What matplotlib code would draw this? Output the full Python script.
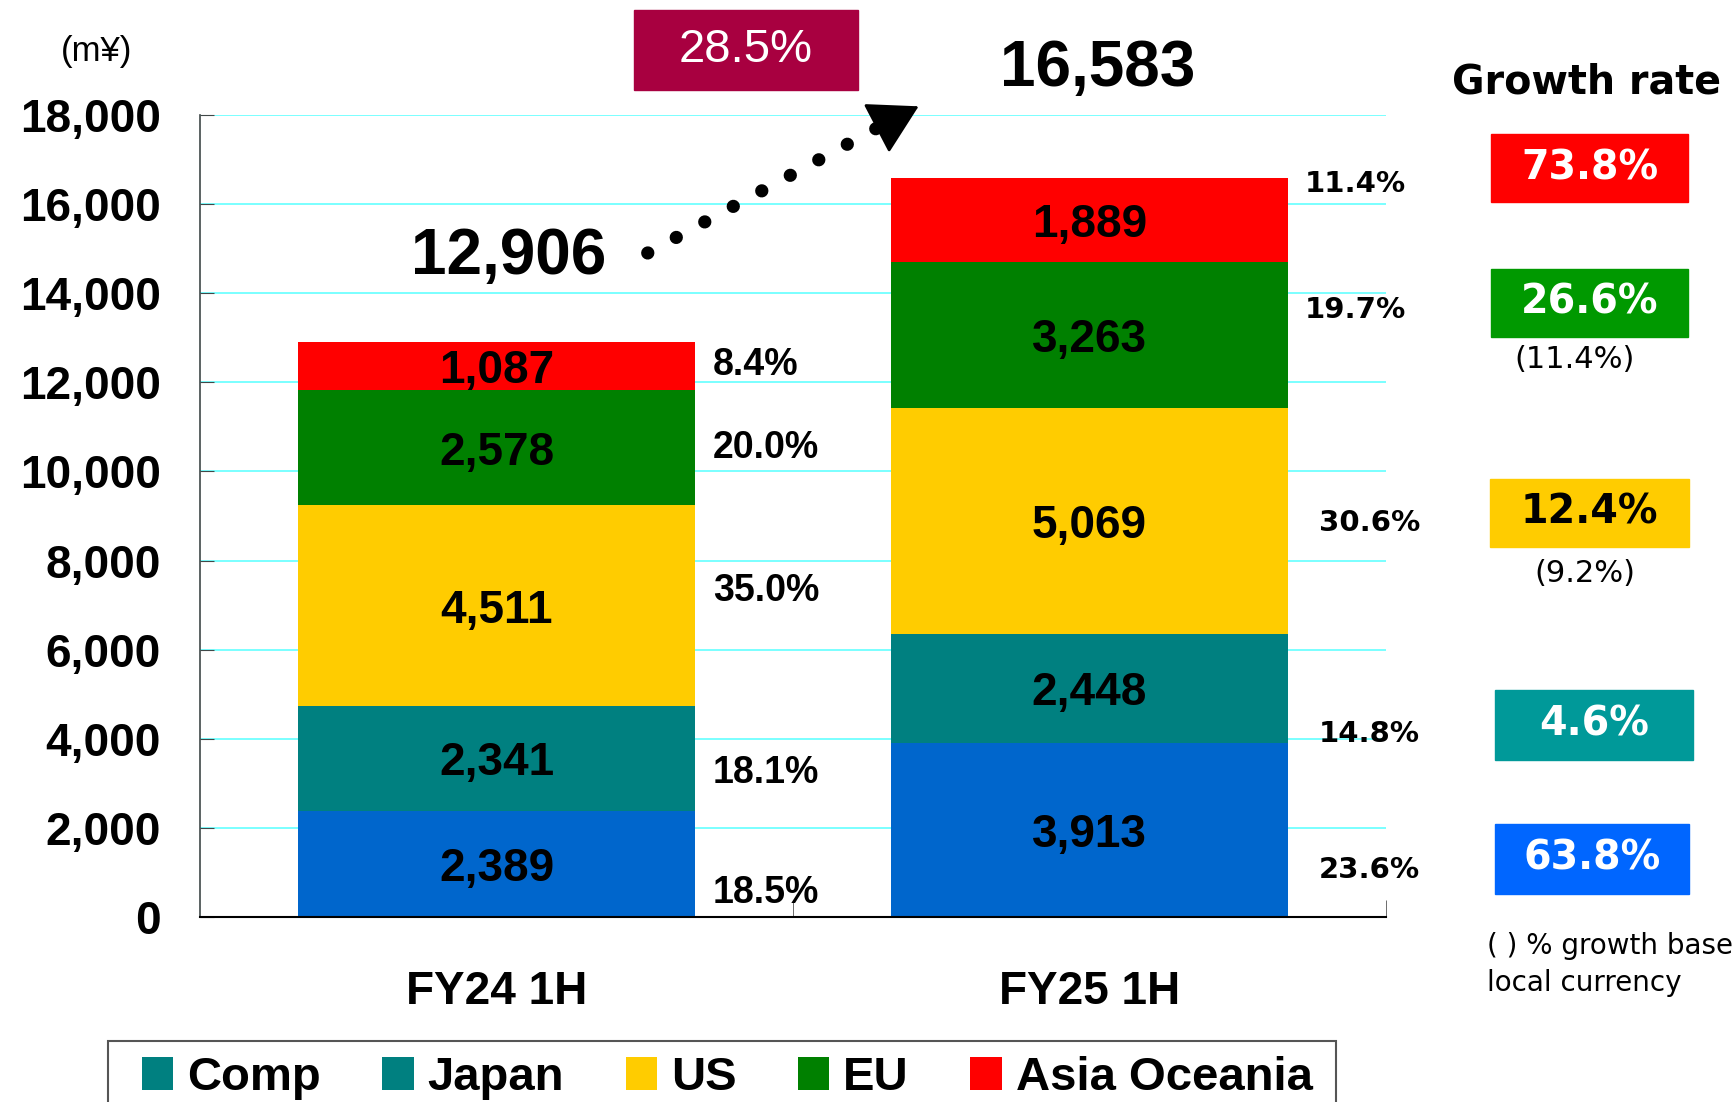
import matplotlib
matplotlib.use('Agg')
import matplotlib.pyplot as plt
from matplotlib.patches import Rectangle, Patch

# ---------------- data ----------------
categories = ['FY24 1H', 'FY25 1H']
legend_names = ['Comp', 'Japan', 'US', 'EU', 'Asia Oceania']
comp = [2389, 3913]
japan = [2341, 2448]
us = [4511, 5069]
eu = [2578, 3263]
asia = [1087, 1889]
totals = [12906, 16583]
share_fy24 = ['18.5%', '18.1%', '35.0%', '20.0%', '8.4%']
share_fy25 = ['23.6%', '14.8%', '30.6%', '19.7%', '11.4%']
growth = ['63.8%', '4.6%', '12.4%', '26.6%', '73.8%']
growth_local = ['', '', '(9.2%)', '(11.4%)', '']
total_growth = '28.5%'
yticks = list(range(0, 18001, 2000))

# ---------------- style / layout ----------------
W, H = 1734, 1102
bar_colors = ['#0066CC', '#008080', '#FFCC00', '#008000', '#FF0000']
legend_colors = ['#008080', '#008080', '#FFCC00', '#008000', '#FF0000']
box_colors = ['#0066FF', '#009999', '#FFCC00', '#009900', '#FF0000']
box_text_colors = ['white', 'white', 'black', 'white', 'white']
box_px = [(1495, 824, 1689, 894), (1495, 690, 1693, 760), (1490, 479, 1689, 547),
          (1491, 269, 1688, 337), (1491, 134, 1688, 202)]
local_px = [None, None, (1585, 573), (1575, 359), None]
share24_y = [621, 3327, 7399, 10626, 12488]
share25_y = [1117, 4171, 8913, 13680, 16510]
share25_x = [1.387, 1.387, 1.387, 1.363, 1.363]
BAR_W = 0.668

plt.rcParams['font.family'] = ['Liberation Sans', 'DejaVu Sans']

def fx(px):
    return px / W

def fy(py):
    return 1 - py / H

fig = plt.figure(figsize=(W / 100, H / 100), dpi=100)
ax = fig.add_axes([fx(200), fy(917), (1386 - 200) / W, (917 - 115) / H])

series = [comp, japan, us, eu, asia]
x = list(range(len(categories)))
bottoms = [0] * len(categories)
for vals, col in zip(series, bar_colors):
    ax.bar(x, vals, BAR_W, bottom=bottoms, color=col, zorder=2)
    for i, v in enumerate(vals):
        ax.text(x[i], bottoms[i] + v / 2, f'{v:,}', ha='center', va='center_baseline',
                fontsize=33, fontweight='bold', color='black', zorder=3)
    bottoms = [b + v for b, v in zip(bottoms, vals)]

# share labels
for s, yv in zip(share_fy24, share24_y):
    ax.text(0.365, yv, s, ha='left', va='center_baseline', fontsize=27,
            fontweight='bold', zorder=3)
for s, yv, xv in zip(share_fy25, share25_y, share25_x):
    ax.text(xv, yv, s, ha='left', va='center_baseline', fontsize=21, fontweight='bold',
            family='DejaVu Sans', zorder=3, clip_on=False)

# totals
ax.text(0.021, 14813, f'{totals[0]:,}', ha='center', va='center', fontsize=46,
        fontweight='bold', clip_on=False)
ax.text(1.014, 19032, f'{totals[1]:,}', ha='center', va='center', fontsize=46,
        fontweight='bold', clip_on=False)

# dotted arrow
ax.plot([0.255, 0.645], [14903, 17731], color='black', lw=9.5,
        linestyle=(0, (0.01, 2.45)), dash_capstyle='round', solid_capstyle='round',
        clip_on=False, zorder=4)
ax.annotate('', xy=(0.716, 18224), xytext=(0.645, 17731),
            arrowprops=dict(arrowstyle='-|>,head_length=0.87,head_width=0.5',
                            mutation_scale=36, color='black', lw=2),
            annotation_clip=False, zorder=4)

# axes styling
ax.set_xlim(-0.5, 1.5)
ax.set_ylim(0, 18000)
ax.set_yticks(yticks)
ax.set_yticklabels([f'{t:,}' for t in yticks], fontsize=33, fontweight='bold')
ax.set_xticks(x)
ax.set_xticklabels(categories, fontsize=33, fontweight='bold')
ax.set_xticks([0.5, 1.5], minor=True)
ax.tick_params(axis='x', which='major', length=0, pad=38)
ax.tick_params(axis='x', which='minor', direction='in', length=12, color='#555555')
ax.tick_params(axis='y', direction='in', length=10, pad=28, color='#404848')
ax.grid(axis='y', color='#70FFFF', lw=1.3, zorder=0)
ax.set_axisbelow(True)
for sp in ['top', 'right']:
    ax.spines[sp].set_visible(False)
ax.spines['left'].set_color('#404848')
ax.spines['left'].set_linewidth(1.2)
ax.spines['bottom'].set_color('black')
ax.spines['bottom'].set_linewidth(1.5)

# unit label
fig.text(fx(97), fy(52), '(m¥)', ha='center', va='center', fontsize=25)

# 28.5% box
fig.patches.append(Rectangle((fx(634), fy(90)), (858 - 634) / W, 80 / H,
                             transform=fig.transFigure, color='#A80040', zorder=1))
fig.text(fx(746), fy(50), total_growth, ha='center', va='center', fontsize=34,
         color='white', zorder=2)

# growth rate panel
fig.text(fx(1586), fy(82), 'Growth rate', ha='center', va='center', fontsize=28.5,
         fontweight='bold', family='DejaVu Sans')
for (x0, y0, x1, y1), col, tc, g, loc_px, lt in zip(box_px, box_colors, box_text_colors,
                                                     growth, local_px, growth_local):
    fig.patches.append(Rectangle((fx(x0), fy(y1)), (x1 - x0) / W, (y1 - y0) / H,
                                 transform=fig.transFigure, color=col, zorder=1))
    fig.text(fx((x0 + x1) / 2), fy((y0 + y1) / 2), g, ha='center', va='center',
             fontsize=28.5, fontweight='bold', color=tc, family='DejaVu Sans', zorder=2)
    if loc_px is not None:
        fig.text(fx(loc_px[0]), fy(loc_px[1]), lt, ha='center', va='center',
                 fontsize=22, family='DejaVu Sans')

fig.text(fx(1487), fy(946), '( ) % growth based on', ha='left', va='center',
         fontsize=20, family='DejaVu Sans')
fig.text(fx(1487), fy(983), 'local currency', ha='left', va='center',
         fontsize=20, family='DejaVu Sans')

# legend (frame drawn separately so that it runs off the bottom edge like the original)
fig.patches.append(Rectangle((fx(108), fy(1120)), (1336 - 108) / W, (1120 - 1041) / H,
                             transform=fig.transFigure, facecolor='white',
                             edgecolor='#555555', lw=1.5, zorder=0))
handles = [Patch(facecolor=c, edgecolor='none', label=n)
           for c, n in zip(legend_colors, legend_names)]
fig.legend(handles=handles, loc='center left', bbox_to_anchor=(fx(142), fy(1078)),
           ncol=5, frameon=False, borderaxespad=0, borderpad=0,
           prop={'size': 34, 'weight': 'bold'}, handlelength=0.66,
           handleheight=0.7, handletextpad=0.3, columnspacing=1.3)

fig.savefig('out.png', dpi=100)
